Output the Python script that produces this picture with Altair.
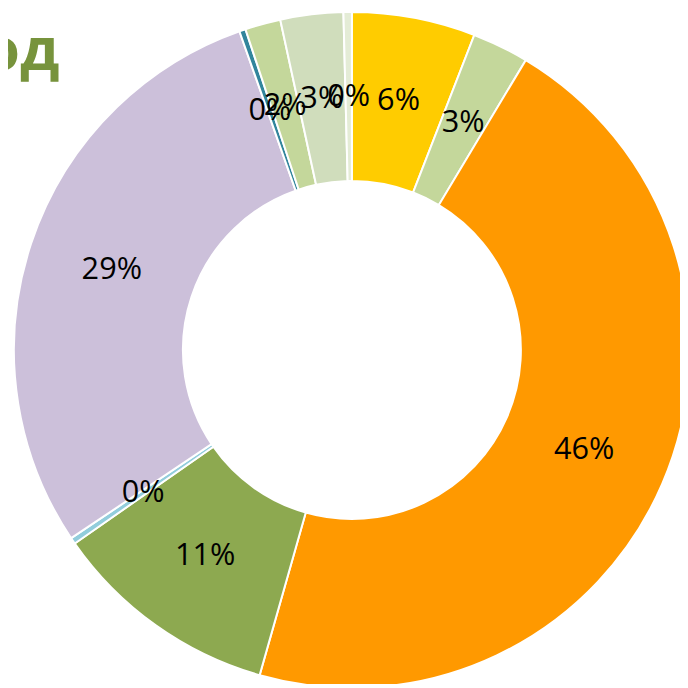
import altair as alt
import pandas as pd

# Slices, clockwise from 12 o'clock
categories = ["s1", "s2", "s3", "s4", "s5", "s6", "s7", "s8", "s9", "s10"]
values = [5.9, 2.7, 45.8, 10.9, 0.3, 29.0, 0.3, 1.7, 3.0, 0.4]
labels = ["6%", "3%", "46%", "11%", "0%", "29%", "0%", "2%", "3%", "0%"]
palette = ["#FFCC00", "#C4D79B", "#FF9900", "#8DA950", "#92CDDC",
           "#CCC0DA", "#31859C", "#C4D79B", "#D0DDBC", "#E4ECD6"]
title_text = "од"

df = pd.DataFrame({
    "cat": categories,
    "value": values,
    "label": labels,
    "idx": list(range(len(categories))),
})

CX, CY = 348, 342

base = alt.Chart(df).encode(
    theta=alt.Theta("value:Q", stack=True, scale=alt.Scale(domain=[0, sum(values)])),
    order=alt.Order("idx:Q", sort="ascending"),
    x=alt.value(CX),
    y=alt.value(CY),
)

arcs = base.mark_arc(radius=342, radius2=171, stroke="white", strokeWidth=2, clip=True).encode(
    color=alt.Color("cat:N", scale=alt.Scale(domain=categories, range=palette), legend=None),
)

text = base.mark_text(radius=256, font="Open Sans", fontSize=31, color="black",
                      align="center", baseline="middle").encode(
    text="label:N",
)

title = alt.Chart(pd.DataFrame({"t": [title_text]})).mark_text(
    font="Open Sans", fontSize=60, fontWeight="bold", color="#77933C",
    align="right", baseline="alphabetic",
).encode(
    text="t:N",
    x=alt.value(52),
    y=alt.value(59),
)

chart = alt.layer(arcs, text, title).properties(
    width=680, height=680, padding=0, autosize=alt.AutoSizeParams(type="none"),
).configure_view(stroke=None)

chart.save("out.html", embed_options={"renderer": "svg", "actions": False})
